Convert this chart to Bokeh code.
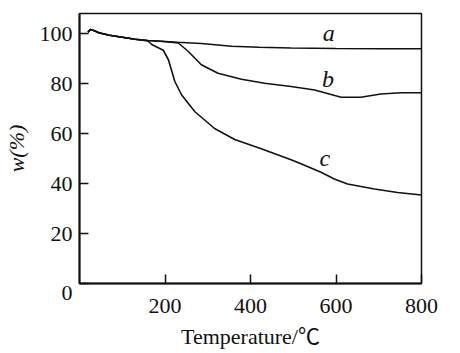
from bokeh.plotting import figure
from bokeh.models import Label, FixedTicker, Range1d
from bokeh.embed import file_html
from bokeh.resources import INLINE

# ---- data ----
temp_a = [20, 25, 35, 45, 70, 100, 130, 160, 190, 230, 285, 330, 356, 420, 495, 600, 700, 800]
w_a = [100.5, 101.6, 101.1, 100.3, 99.3, 98.5, 97.7, 97.2, 96.9, 96.5, 96.0, 95.3, 94.9, 94.5, 94.2, 94.0, 93.9, 93.9]

temp_b = [20, 25, 35, 45, 70, 100, 130, 160, 190, 231, 254, 285, 324, 379, 433, 495, 550, 612, 658, 705, 752, 800]
w_b = [100.5, 101.6, 101.1, 100.3, 99.3, 98.5, 97.7, 97.2, 96.9, 96.2, 92.9, 87.5, 84.1, 81.7, 80.1, 78.8, 77.4, 74.5, 74.5, 75.8, 76.3, 76.3]

temp_c = [20, 25, 35, 45, 70, 100, 130, 160, 169, 196, 208, 223, 239, 270, 316, 363, 425, 495, 518, 565, 596, 627, 690, 744, 800]
w_c = [100.5, 101.6, 101.1, 100.3, 99.3, 98.5, 97.7, 97.0, 95.6, 93.3, 89.5, 80.8, 75.4, 68.7, 62.0, 57.6, 53.9, 49.5, 47.9, 44.5, 41.8, 39.8, 37.8, 36.4, 35.4]

x_ticks = [200, 400, 600, 800]
y_ticks = [0, 20, 40, 60, 80, 100]

curve_names = ["a", "b", "c"]
name_x = [583, 581, 574]
name_y = [100.3, 81.8, 50.4]

SERIF = "Liberation Serif"
INK = "#111111"

p = figure(width=460, height=353, output_backend="svg", toolbar_location=None,
           x_range=Range1d(0, 800), y_range=Range1d(0, 108),
           min_border_left=77, min_border_right=39, min_border_top=13, min_border_bottom=70)

p.background_fill_color = "white"
p.border_fill_color = "white"
p.outline_line_color = INK
p.outline_line_width = 1.5
p.grid.visible = False

for ax in (p.xaxis, p.yaxis):
    ax.axis_line_width = 2
    ax.axis_line_color = INK
    ax.major_tick_in = 9
    ax.major_tick_out = 0
    ax.major_tick_line_width = 1.5
    ax.major_tick_line_color = INK
    ax.minor_tick_line_color = None
    ax.major_label_text_font = SERIF
    ax.major_label_text_font_size = "22px"
    ax.major_label_text_color = INK

p.xaxis.ticker = FixedTicker(ticks=x_ticks)
p.yaxis.ticker = FixedTicker(ticks=y_ticks)
p.yaxis.major_label_overrides = {0: "\n0"}
p.yaxis.major_label_text_line_height = 0.7
p.xaxis.major_label_standoff = 15
p.yaxis.major_label_standoff = 7

p.xaxis.axis_label = "Temperature/℃"
p.xaxis.axis_label_text_font = "Liberation Serif, Noto Sans CJK SC"
p.xaxis.axis_label_text_font_style = "normal"
p.xaxis.axis_label_text_font_size = "22px"
p.xaxis.axis_label_text_color = INK
p.xaxis.axis_label_standoff = 8

p.yaxis.axis_label = "w(%)"
p.yaxis.axis_label_text_font = SERIF
p.yaxis.axis_label_text_font_style = "italic"
p.yaxis.axis_label_text_font_size = "22px"
p.yaxis.axis_label_text_color = INK
p.yaxis.axis_label_standoff = 8

for tx, wy in ((temp_a, w_a), (temp_b, w_b), (temp_c, w_c)):
    p.line(tx, wy, line_color=INK, line_width=1.6)

for nm, nx, ny in zip(curve_names, name_x, name_y):
    p.add_layout(Label(x=nx, y=ny, text=nm, text_font=SERIF, text_font_style="italic",
                       text_font_size="24px", text_align="center", text_baseline="alphabetic",
                       text_color=INK))

open("out.html", "w").write(file_html(p, INLINE))
